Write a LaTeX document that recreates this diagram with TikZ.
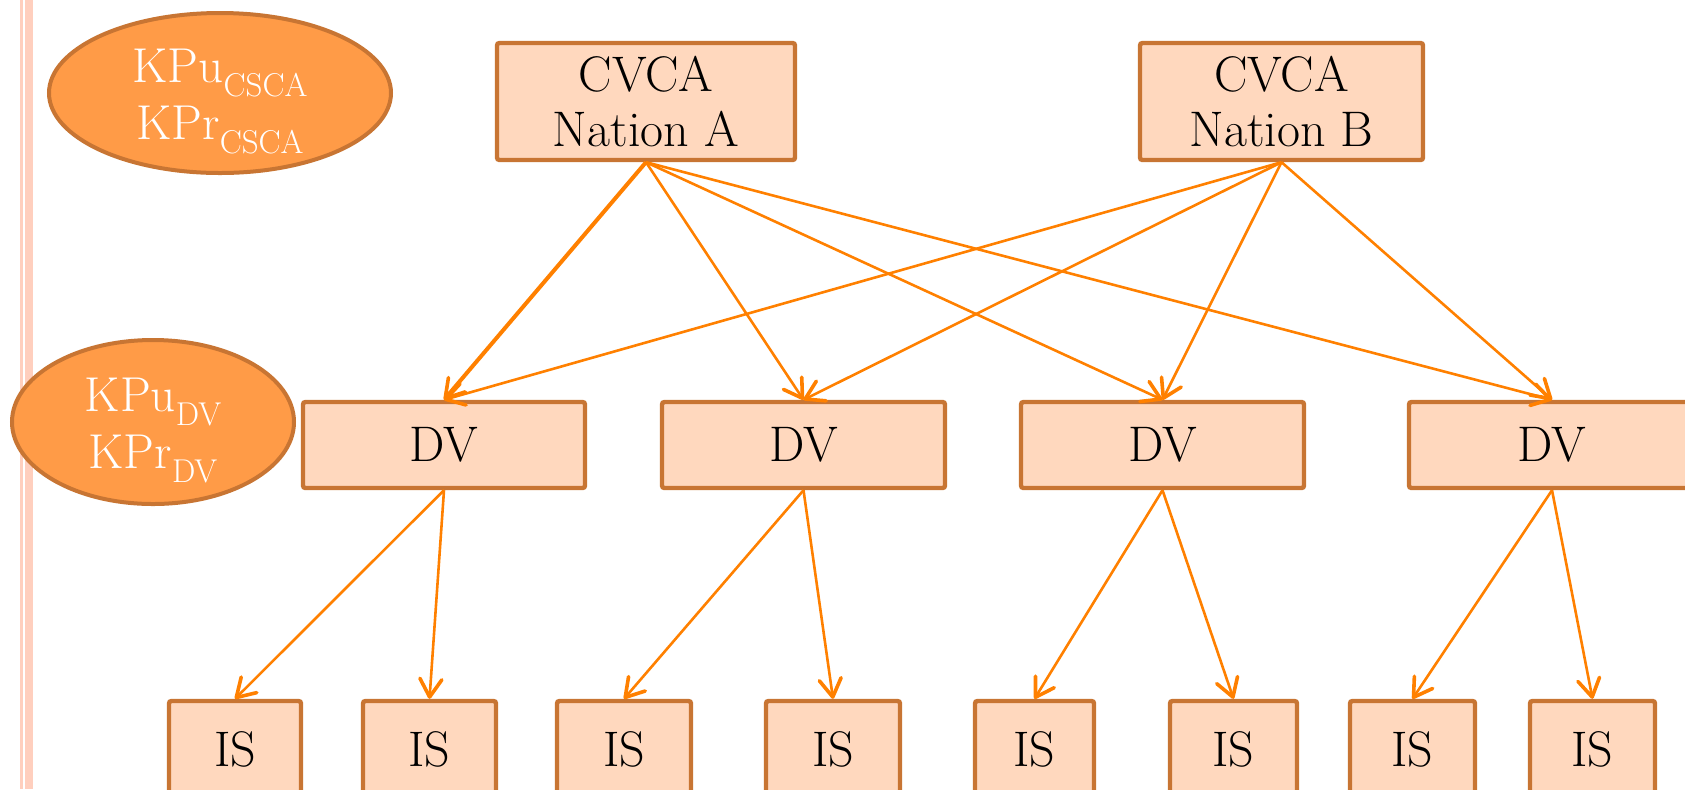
\documentclass[tikz,border=0pt]{standalone}
\usetikzlibrary{arrows.meta,shapes.geometric}
\definecolor{boxfill}{HTML}{FFD8BE}
\definecolor{boxdraw}{HTML}{C87533}
\definecolor{ellfill}{HTML}{FF9B47}
\definecolor{arr}{HTML}{FF8000}
\definecolor{sideline}{HTML}{FFCFBE}
\newcommand\kpsub[1]{\raisebox{-7pt}{\fontsize{16.5}{16.5}\selectfont #1}}
\begin{document}
\begin{tikzpicture}[x=0.5pt,y=-0.5pt,
  box/.style={draw=boxdraw,fill=boxfill,line width=2.2pt,rounded corners=1.2pt,inner sep=0pt,align=center,font=\fontsize{25}{27.5}\selectfont},
  keyell/.style={ellipse,draw=boxdraw,fill=ellfill,line width=2pt,inner sep=0pt},
  keytxt/.style={text=white,align=center,inner sep=0pt,font=\fontsize{24.5}{28.5}\selectfont},
  link/.style={draw=arr,line width=1.3pt,-{Straight Barb[length=9pt,width=11pt,line width=1.8pt,round]}},
]
\useasboundingbox (0,0) rectangle (1685,789);
\fill[sideline] (20,0) rectangle (22.7,789);
\fill[sideline] (25.3,0) rectangle (32.7,789);

% key ellipses
\node[keyell,minimum width=171pt,minimum height=80pt] (e1) at (220,93) {};
\node[keytxt] (e1t) at (220,102) {KPu\kpsub{CSCA}\\KPr\kpsub{CSCA}};
\node[keyell,minimum width=141pt,minimum height=82pt] (e2) at (153,422) {};
\node[keytxt] (e2t) at (153,431) {KPu\kpsub{DV}\\KPr\kpsub{DV}};

% CVCA
\node[box,minimum width=149pt,minimum height=58.5pt] (ca) at (646,101.5) {CVCA\\Nation A};
\node[box,minimum width=141.5pt,minimum height=58.5pt] (cb) at (1281.5,101.5) {CVCA\\Nation B};

% DV
\node[box,minimum width=141pt,minimum height=43pt] (dv1) at (444,445) {DV};
\node[box,minimum width=141.5pt,minimum height=43pt] (dv2) at (803.5,445) {DV};
\node[box,minimum width=141.5pt,minimum height=43pt] (dv3) at (1162.5,445) {DV};
\node[box,minimum width=143pt,minimum height=43pt] (dv4) at (1552,445) {DV};

% IS
\tikzset{isbox/.style={box,minimum height=48pt}}
\node[isbox,minimum width=66pt] (is1) at (235,749) {IS};
\node[isbox,minimum width=66.5pt] (is2) at (429.5,749) {IS};
\node[isbox,minimum width=67pt] (is3) at (624,749) {IS};
\node[isbox,minimum width=67pt] (is4) at (833,749) {IS};
\node[isbox,minimum width=59.5pt] (is5) at (1034.5,749) {IS};
\node[isbox,minimum width=63.5pt] (is6) at (1233.5,749) {IS};
\node[isbox,minimum width=62.5pt] (is7) at (1412.5,749) {IS};
\node[isbox,minimum width=62.5pt] (is8) at (1592.5,749) {IS};

% CVCA -> DV
\draw[link,line width=2pt] (ca.south) -- (dv1.north);
\draw[link] (ca.south) -- (dv2.north);
\draw[link] (ca.south) -- (dv3.north);
\draw[link] (ca.south) -- (dv4.north);
\draw[link] (cb.south) -- (dv1.north);
\draw[link] (cb.south) -- (dv2.north);
\draw[link] (cb.south) -- (dv3.north);
\draw[link] (cb.south) -- (dv4.north);

% DV -> IS
\draw[link] (dv1.south) -- (is1.north);
\draw[link] (dv1.south) -- (is2.north);
\draw[link] (dv2.south) -- (is3.north);
\draw[link] (dv2.south) -- (is4.north);
\draw[link] (dv3.south) -- (is5.north);
\draw[link] (dv3.south) -- (is6.north);
\draw[link] (dv4.south) -- (is7.north);
\draw[link] (dv4.south) -- (is8.north);
\end{tikzpicture}
\end{document}
